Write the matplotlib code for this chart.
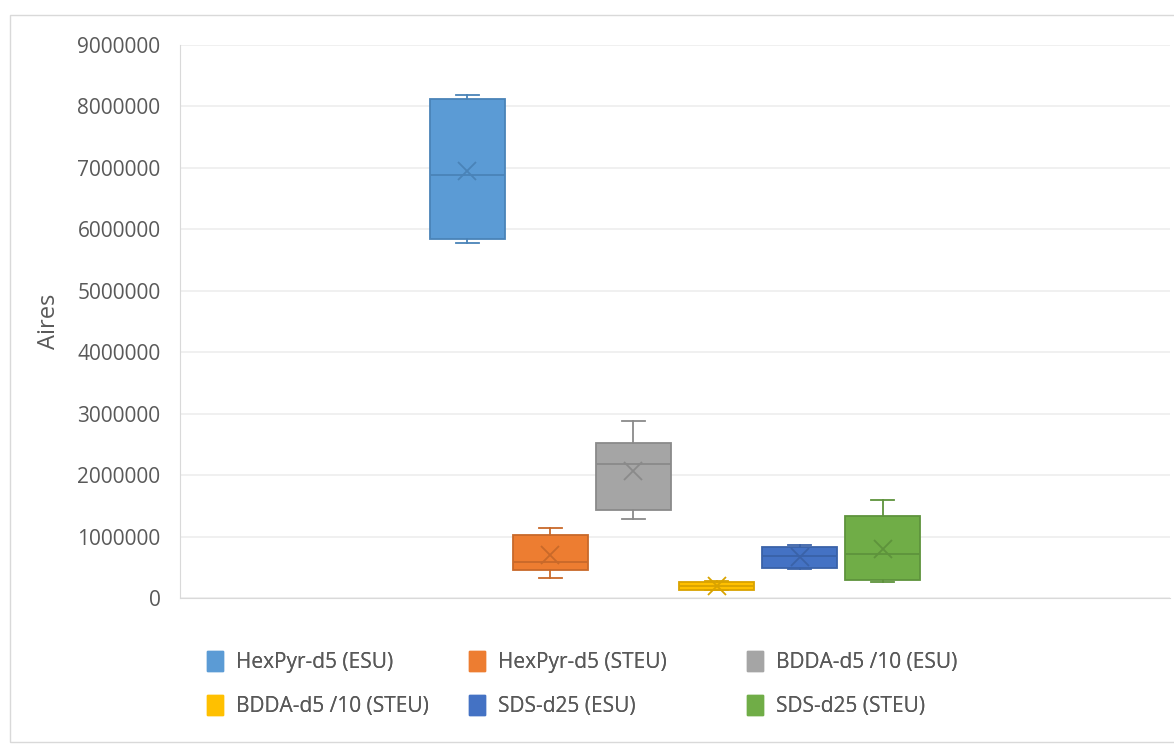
import matplotlib.pyplot as plt
from matplotlib.patches import Rectangle, Patch

plt.rcParams['font.family'] = ['Open Sans', 'DejaVu Sans']

labels = ['HexPyr-d5 (ESU)', 'HexPyr-d5 (STEU)', 'BDDA-d5 /10 (ESU)',
          'BDDA-d5 /10 (STEU)', 'SDS-d25 (ESU)', 'SDS-d25 (STEU)']
whislo = [5780000, 326000, 1290000, 125000, 470000, 265000]
q1 = [5850000, 456000, 1440000, 135000, 490000, 290000]
med = [6880000, 580000, 2180000, 200000, 690000, 720000]
q3 = [8120000, 1030000, 2520000, 260000, 835000, 1340000]
whishi = [8190000, 1140000, 2880000, 270000, 860000, 1600000]
mean = [6950000, 700000, 2070000, 200000, 670000, 800000]

faces = ['#5B9BD5', '#ED7D31', '#A5A5A5', '#FFC000', '#4472C4', '#70AD47']
edges = ['#4A83B8', '#C8692A', '#8A8A8A', '#D9A300', '#3A62A8', '#5E933C']

fig = plt.figure(figsize=(11.74, 7.44), dpi=100)
ax = fig.add_axes([180/1174, 1-598/744, 990/1174, 553/744])

for i in range(len(labels)):
    st = [dict(whislo=whislo[i], q1=q1[i], med=med[i], q3=q3[i],
               whishi=whishi[i], mean=mean[i], fliers=[], label=labels[i])]
    ax.bxp(st, positions=[i], widths=0.91, patch_artist=True, showmeans=True,
           boxprops=dict(facecolor=faces[i], edgecolor=edges[i], linewidth=1.3),
           medianprops=dict(color=edges[i], linewidth=1.3),
           whiskerprops=dict(color=edges[i], linewidth=1.3),
           capprops=dict(color=edges[i], linewidth=1.3),
           capwidths=0.28,
           meanprops=dict(marker='x', markersize=13, markeredgecolor=edges[i],
                          markeredgewidth=1.3))

ax.set_xlim(-3.46, 8.46)
ax.set_ylim(0, 9000000)
ax.set_yticks(range(0, 9000001, 1000000))
ax.set_yticklabels([str(v) for v in range(0, 9000001, 1000000)])
ax.set_xticks([])
ax.grid(axis='y', color='#EDEDED', linewidth=1.2)
ax.set_axisbelow(True)
for s in ['top', 'right']:
    ax.spines[s].set_visible(False)
ax.spines['left'].set_color('#D9D9D9')
ax.spines['bottom'].set_color('#D9D9D9')
ax.tick_params(axis='y', length=0, labelsize=15, labelcolor='#595959', pad=14)
ax.set_ylabel('Aires', fontsize=17, color='#595959', labelpad=12)

# legend: three columns, filled row by row
col_x = [188, 450, 728]
for c in range(3):
    idx = [c, c + 3]
    handles = [Patch(facecolor=faces[i], edgecolor=faces[i]) for i in idx]
    leg = fig.legend(handles, [labels[i] for i in idx], loc='upper left',
                     bbox_to_anchor=(col_x[c]/1174, 1-632/744),
                     frameon=False, fontsize=15, labelcolor='#595959',
                     handlelength=0.8, handleheight=1.1, labelspacing=1.05,
                     handletextpad=0.6)
    fig.add_artist(leg)

fig.patches.append(Rectangle((10/1174, 1-742/744), 1200/1174, 727/744,
                             transform=fig.transFigure, fill=False,
                             edgecolor='#D9D9D9', linewidth=1))

fig.savefig('out.png', dpi=100)
